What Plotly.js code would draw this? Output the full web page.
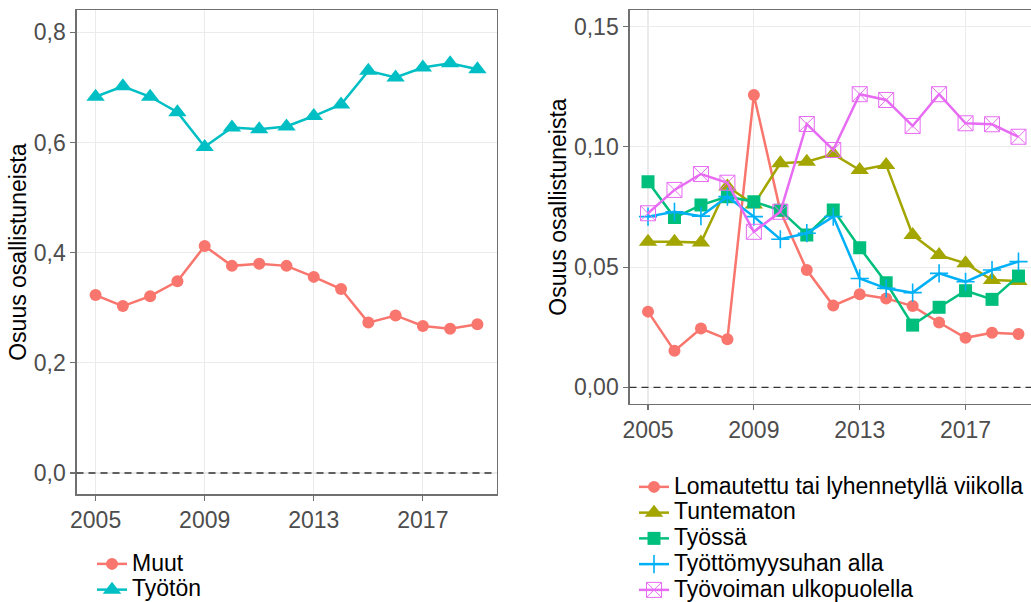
<!DOCTYPE html>
<html>
<head>
<meta charset="utf-8">
<script src="https://cdn.plot.ly/plotly-3.0.1.min.js"></script>
<style>
html, body { margin:0; padding:0; overflow:hidden; background:#fff; }
#chart { width:1040px; height:602px; }
</style>
</head>
<body>
<div id="chart"></div>
<script>
// ---- data ----
const years = [2005,2006,2007,2008,2009,2010,2011,2012,2013,2014,2015,2016,2017,2018,2019];

// left panel
const muut   = [0.323,0.303,0.321,0.348,0.412,0.376,0.380,0.376,0.356,0.334,0.273,0.286,0.267,0.262,0.270];
const tyoton = [0.683,0.702,0.683,0.655,0.592,0.627,0.624,0.629,0.648,0.669,0.730,0.718,0.736,0.744,0.733];
const leftNames = ["Muut","Työtön"];

// right panel
const lomautettu = [0.0315,0.0152,0.0245,0.0200,0.1216,0.0733,0.0488,0.0340,0.0387,0.0370,0.0338,0.0270,0.0206,0.0227,0.0222];
const tuntematon = [0.0606,0.0606,0.0602,0.0835,0.0760,0.0932,0.0938,0.0970,0.0904,0.0925,0.0634,0.0550,0.0516,0.0446,0.0442];
const tyossa     = [0.0855,0.0706,0.0758,0.0793,0.0772,0.0736,0.0634,0.0738,0.0581,0.0435,0.0259,0.0333,0.0402,0.0366,0.0463];
const tyottUhka  = [0.0710,0.0730,0.0712,0.0793,0.0710,0.0616,0.0641,0.0710,0.0453,0.0412,0.0394,0.0474,0.0439,0.0488,0.0523];
const ulkopuol   = [0.0724,0.0821,0.0887,0.0851,0.0647,0.0730,0.1095,0.0987,0.1219,0.1195,0.1087,0.1219,0.1098,0.1094,0.1042];
const rightNames = ["Lomautettu tai lyhennetyllä viikolla","Tuntematon","Työssä","Työttömyysuhan alla","Työvoiman ulkopuolella"];

const yTitle = "Osuus osallistuneista";
const xTicks = [2005,2009,2013,2017];

// ---- styling ----
const FONT = "Liberation Sans, Arial, sans-serif";
const FS = 23;
const W = 1040, H = 602;
const px = v => v / W;
const py = v => (H - v) / H;
const LW = 2.5;
const nm = s => '<span style="font-size:' + FS + 'px">' + s + '</span>';

function tr(y, name, color, symbol, size, xa, ya, leg, extra) {
  const m = Object.assign({color: color, size: size, symbol: symbol}, extra || {});
  return {x: years, y: y, name: nm(name), type: 'scatter', mode: 'lines+markers',
          xaxis: xa, yaxis: ya, legend: leg,
          line: {color: color, width: LW}, marker: m};
}

const traces = [
  tr(muut, leftNames[0], '#F8766D', 'circle', 12, 'x', 'y', 'legend'),
  tr(tyoton, leftNames[1], '#00BFC4', 'triangle-up', 16, 'x', 'y', 'legend'),
  tr(lomautettu, rightNames[0], '#F8766D', 'circle', 12, 'x2', 'y2', 'legend2'),
  tr(tuntematon, rightNames[1], '#A3A500', 'triangle-up', 16, 'x2', 'y2', 'legend2'),
  tr(tyossa, rightNames[2], '#00BF7D', 'square', 13, 'x2', 'y2', 'legend2'),
  tr(tyottUhka, rightNames[3], '#00B0F6', 'cross-thin-open', 13, 'x2', 'y2', 'legend2',
     {line: {color: '#00B0F6', width: 1.6}}),
  tr(ulkopuol, rightNames[4], '#E76BF3', 'square-x-open', 15, 'x2', 'y2', 'legend2',
     {line: {color: '#E76BF3', width: 1}})
];

const axisCommon = {
  showline: true, mirror: true, linecolor: '#707070', linewidth: 1.2,
  showgrid: true, gridcolor: '#EBEBEB', gridwidth: 1.2, zeroline: false,
  ticks: 'outside', ticklen: 5, tickcolor: '#707070', tickwidth: 1.2,
  tickfont: {family: FONT, size: FS, color: '#4D4D4D'}
};

const layout = {
  width: W, height: H,
  margin: {l: 0, r: 0, t: 0, b: 0, autoexpand: false},
  paper_bgcolor: '#fff', plot_bgcolor: '#fff',
  separators: ', ',
  font: {family: FONT, color: '#000'},
  xaxis: Object.assign({}, axisCommon, {domain: [px(76.5), px(496.5)], range: [2004.3, 2019.7],
         tickvals: xTicks, anchor: 'y'}),
  yaxis: Object.assign({}, axisCommon, {domain: [py(494.3), py(10)], range: [-0.0387, 0.8405],
         tickvals: [0, 0.2, 0.4, 0.6, 0.8], tickformat: '.1f', anchor: 'x',
         title: {text: yTitle, font: {family: FONT, size: FS, color: '#000'}, standoff: 0}}),
  xaxis2: Object.assign({}, axisCommon, {domain: [px(629.5), px(1037)], range: [2004.3, 2019.7],
         tickvals: xTicks, anchor: 'y2'}),
  yaxis2: Object.assign({}, axisCommon, {domain: [py(404), py(10)], range: [-0.0069, 0.1569],
         tickvals: [0, 0.05, 0.10, 0.15], tickformat: '.2f', anchor: 'x2',
         title: {text: yTitle, font: {family: FONT, size: FS, color: '#000'}, standoff: 0}}),
  shapes: [
    {type: 'line', xref: 'x domain', yref: 'y', x0: 0, x1: 1, y0: 0, y1: 0,
     line: {color: '#333', width: 1.4, dash: '7px,5px'}},
    {type: 'line', xref: 'x2 domain', yref: 'y2', x0: 0, x1: 1, y0: 0, y1: 0,
     line: {color: '#333', width: 1.4, dash: '7px,5px'}}
  ],
  showlegend: true,
  legend: {x: px(92), xanchor: 'left', y: py(546), yanchor: 'top', bgcolor: 'rgba(0,0,0,0)',
           font: {family: FONT, size: 17.5, color: '#000'}, tracegroupgap: 0},
  legend2: {x: px(634), xanchor: 'left', y: py(469), yanchor: 'top', bgcolor: 'rgba(0,0,0,0)',
           font: {family: FONT, size: 17.5, color: '#000'}, tracegroupgap: 0}
};

Plotly.newPlot('chart', traces, layout, {displayModeBar: false, staticPlot: true});
</script>
</body>
</html>
